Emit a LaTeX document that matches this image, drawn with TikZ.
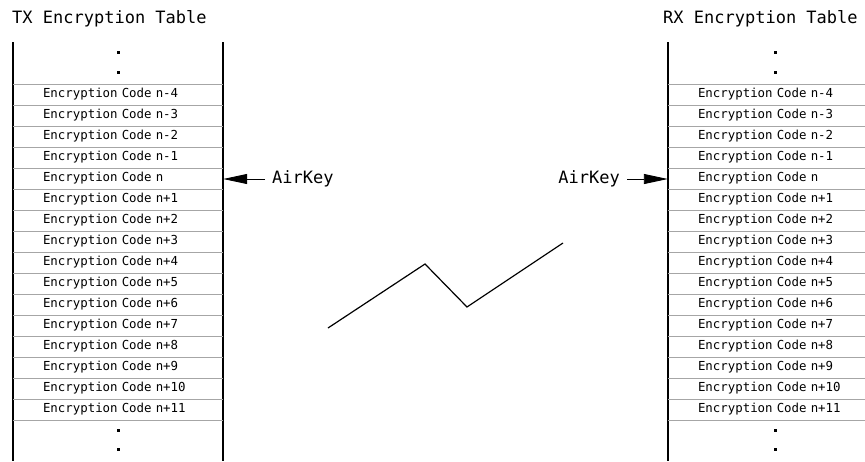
\documentclass[tikz,border=0pt]{standalone}
\usepackage{fontspec}
\setmonofont{DejaVu Sans Mono}
\usepackage{tikz}
\usetikzlibrary{arrows.meta,positioning}
\tikzset{%
	title/.style    = {font=\fontsize{17}{20}\selectfont\ttfamily, inner sep=0pt, anchor=west},
	keylabel/.style = {font=\fontsize{17}{20}\selectfont\ttfamily, inner xsep=7pt, inner ysep=0pt},
	coderow/.style  = {font=\fontsize{12.4}{14}\selectfont\ttfamily, text width=150pt, align=left, inner xsep=30pt, inner ysep=0pt, minimum height=21pt},
	rowline/.style  = {draw=gray!70, line width=0.8pt},
	border/.style   = {line width=1.2pt},
	dotmark/.style  = {fill, inner sep=0pt, minimum size=3pt},
	keyarrow/.style = {line width=0.9pt, -{Triangle[length=24pt,width=10pt]}},
}
\begin{document}
\begin{tikzpicture}[x=1pt,y=-1pt]
	\useasboundingbox (0,0) rectangle (865,461);
	% titles
	\node[title] (txtitle) at (12,19) {TX Encryption Table};
	\node[title] (rxtitle) at (663,19) {RX Encryption Table};
	% table borders
	\draw[border] (13,42) -- (13,461);
	\draw[border] (223,42) -- (223,461);
	\draw[border] (668,42) -- (668,461);
	% row separators
	\foreach \k in {0,...,16}{
		\draw[rowline] (13,84+21*\k) -- (223,84+21*\k);
		\draw[rowline] (668,84+21*\k) -- (865,84+21*\k);
	}
	% code rows
	\foreach \i/\lab in {0/n-4,1/n-3,2/n-2,3/n-1,4/n,5/n+1,6/n+2,7/n+3,8/n+4,9/n+5,10/n+6,11/n+7,12/n+8,13/n+9,14/n+10,15/n+11}{
		\node[coderow] (tx\i) at (118,94.5+21*\i) {Encryption Code \lab};
		\node[coderow] (rx\i) at (773,94.5+21*\i) {Encryption Code \lab};
	}
	% continuation dots
	\foreach \y in {52,72,430,449}{
		\node[dotmark] at (118,\y) {};
		\node[dotmark] at (775,\y) {};
	}
	% AirKey pointers
	\node[keylabel, anchor=west] (txkey) at (265,179) {AirKey};
	\node[keylabel, anchor=east] (rxkey) at (627,179) {AirKey};
	\draw[keyarrow] (txkey.west) -- (txkey.west -| tx4.east);
	\draw[keyarrow] (rxkey.east) -- (rxkey.east -| rx4.west);
	% radio link
	\draw[line width=1.2pt] (328,328) -- (425,264) -- (467,307) -- (563,243);
\end{tikzpicture}
\end{document}
